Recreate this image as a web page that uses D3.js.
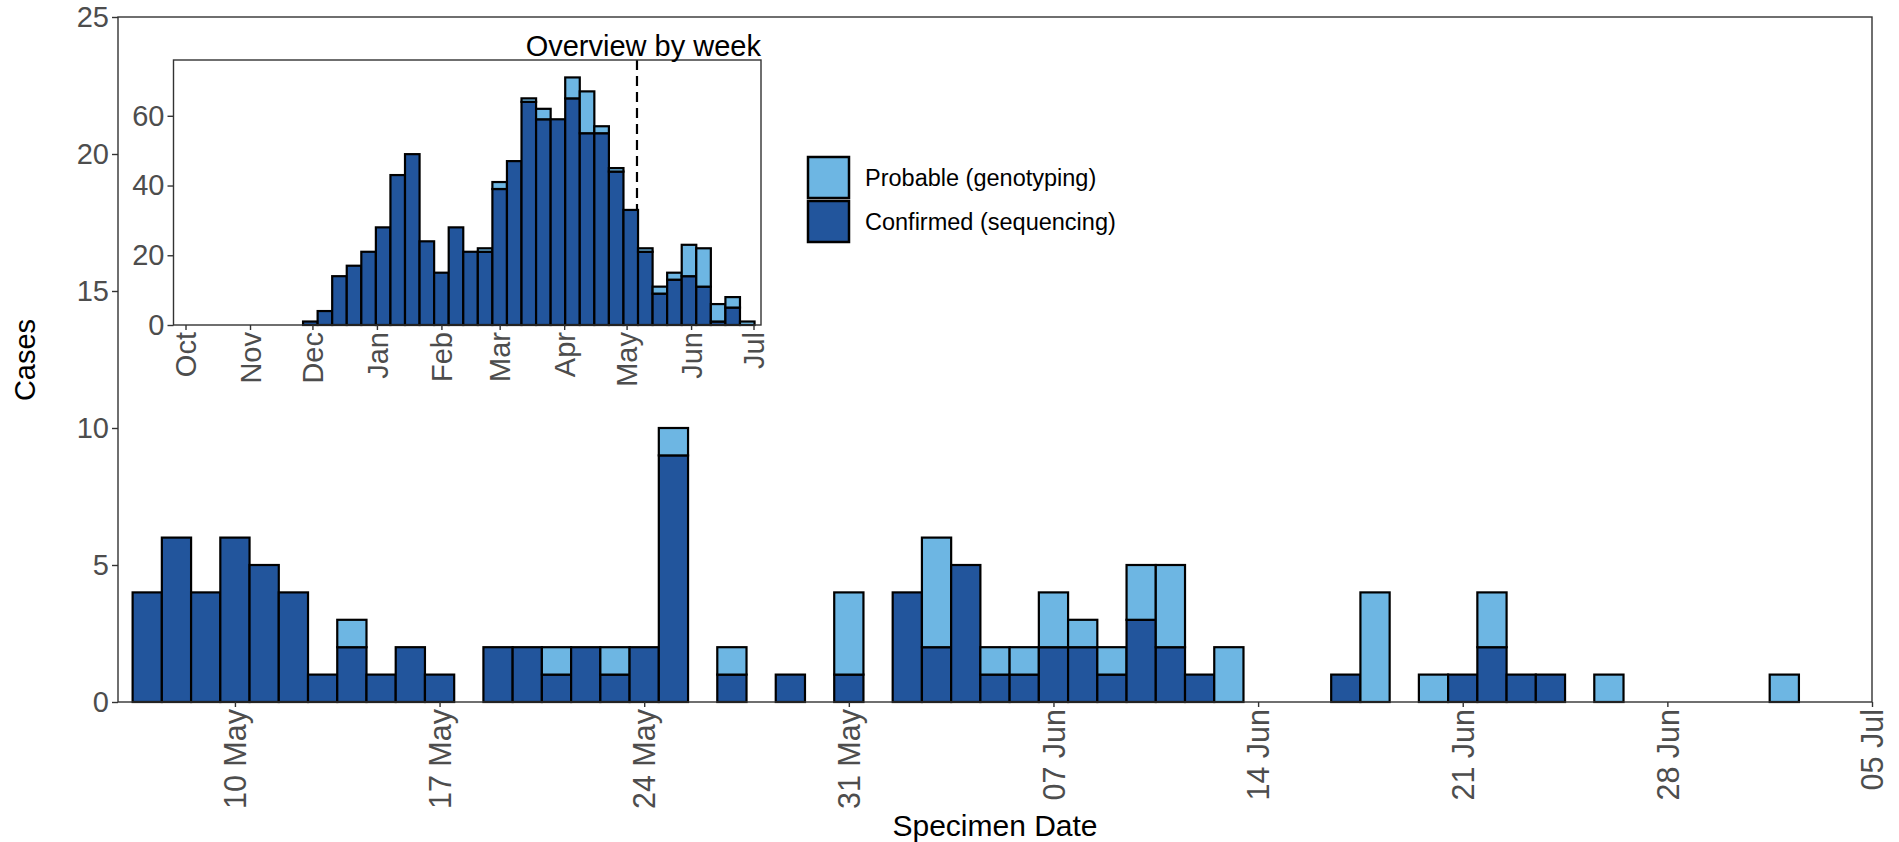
<!DOCTYPE html>
<html><head><meta charset="utf-8">
<script src="https://cdn.jsdelivr.net/npm/d3@7"></script>
<style>
body{margin:0;background:#fff}
svg{display:block}
text{font-family:"Liberation Sans",Arial,sans-serif}
</style>
</head><body>
<svg id="chart" width="1899" height="842"></svg>
<script>
// ---------- DATA ----------
const dailyDates = ["2021-05-07","2021-05-08","2021-05-09","2021-05-10","2021-05-11","2021-05-12","2021-05-13","2021-05-14","2021-05-15","2021-05-16","2021-05-17",
  "2021-05-19","2021-05-20","2021-05-21","2021-05-22","2021-05-23","2021-05-24","2021-05-25","2021-05-27","2021-05-29","2021-05-31",
  "2021-06-02","2021-06-03","2021-06-04","2021-06-05","2021-06-06","2021-06-07","2021-06-08","2021-06-09","2021-06-10","2021-06-11","2021-06-12","2021-06-13",
  "2021-06-17","2021-06-18","2021-06-20","2021-06-21","2021-06-22","2021-06-23","2021-06-24","2021-06-26","2021-07-02"];
const dailyConfirmed = [4,6,4,6,5,4,1,2,1,2,1,
  2,2,1,2,1,2,9,1,1,1,
  4,2,5,1,1,2,2,1,3,2,1,0,
  1,0,0,1,2,1,1,0,0];
const dailyProbable = [0,0,0,0,0,0,0,1,0,0,0,
  0,0,1,0,1,0,1,1,0,3,
  0,4,0,1,1,2,1,1,2,3,0,2,
  0,4,1,0,2,0,0,1,1];

const weekStarts = ["2020-11-30","2020-12-07","2020-12-14","2020-12-21","2020-12-28","2021-01-04","2021-01-11","2021-01-18","2021-01-25",
  "2021-02-01","2021-02-08","2021-02-15","2021-02-22","2021-03-01","2021-03-08","2021-03-15","2021-03-22","2021-03-29",
  "2021-04-05","2021-04-12","2021-04-19","2021-04-26","2021-05-03","2021-05-10","2021-05-17","2021-05-24","2021-05-31",
  "2021-06-07","2021-06-14","2021-06-21","2021-06-28"];
const weeklyConfirmed = [1,4,14,17,21,28,43,49,24,15,28,21,21,39,47,64,59,59,65,55,55,44,33,21,9,13,14,11,1,5,0];
const weeklyProbable  = [0,0,0,0,0,0,0,0,0,0,0,0,1,2,0,1,3,0,6,12,2,1,0,1,2,2,9,11,5,3,1];

const mainTickDates = ["2021-05-10","2021-05-17","2021-05-24","2021-05-31","2021-06-07","2021-06-14","2021-06-21","2021-06-28","2021-07-05"];
const mainTickLabels = ["10 May","17 May","24 May","31 May","07 Jun","14 Jun","21 Jun","28 Jun","05 Jul"];
const mainYTicks = [0,5,10,15,20,25];
const insetTickDates = ["2020-10-01","2020-11-01","2020-12-01","2021-01-01","2021-02-01","2021-03-01","2021-04-01","2021-05-01","2021-06-01","2021-07-01"];
const insetTickLabels = ["Oct","Nov","Dec","Jan","Feb","Mar","Apr","May","Jun","Jul"];
const insetYTicks = [0,20,40,60];
const seriesNames = ["Probable (genotyping)","Confirmed (sequencing)"];
const focusStart = "2021-05-06";
const mainEnd = "2021-07-05";
const insetStart = "2020-09-25T05:30:00Z";
const insetEnd = "2021-07-04T14:30:00Z";

// ---------- STYLE / LAYOUT ----------
const colProb = "#6DB6E3", colConf = "#22559C";
const axisGrey = "#4D4D4D", frameCol = "#333333";
const parse = s => new Date(s.length === 10 ? s + "T00:00:00Z" : s);

const svg = d3.select("#chart");
const M = {left:118, right:1872, top:17, bottom:702};
const I = {left:173.5, right:761, top:60, bottom:325};

// ---------- MAIN ----------
const x = d3.scaleUtc().domain([parse(focusStart), parse(mainEnd)]).range([M.left, M.right]);
const y = d3.scaleLinear().domain([0,25]).range([M.bottom, M.top]);

const daily = dailyDates.map((d,i)=>({date:parse(d), c:dailyConfirmed[i], p:dailyProbable[i]}));
const gMain = svg.append("g");
function addStack(g, data, xs, ys, halfHours){
  data.forEach(d=>{
    const x0 = xs(d3.utcHour.offset(d.date, -halfHours)), x1 = xs(d3.utcHour.offset(d.date, halfHours));
    if (d.c > 0) g.append("rect").attr("x",x0).attr("width",x1-x0)
      .attr("y",ys(d.c)).attr("height",ys(0)-ys(d.c))
      .attr("fill",colConf).attr("stroke","#000").attr("stroke-width",2.2);
    if (d.p > 0) g.append("rect").attr("x",x0).attr("width",x1-x0)
      .attr("y",ys(d.c+d.p)).attr("height",ys(d.c)-ys(d.c+d.p))
      .attr("fill",colProb).attr("stroke","#000").attr("stroke-width",2.2);
  });
}
addStack(gMain, daily, x, y, 12);

// frame
svg.append("rect").attr("x",M.left).attr("y",M.top).attr("width",M.right-M.left).attr("height",M.bottom-M.top)
  .attr("fill","none").attr("stroke",frameCol).attr("stroke-width",1.4);

function styleAxis(g, fs){
  g.select(".domain").remove();
  g.selectAll(".tick line").attr("stroke",frameCol).attr("stroke-width",1.4);
  g.selectAll(".tick text").attr("fill",axisGrey).style("font-size",(fs||29)+"px");
}
const yAx = svg.append("g").attr("transform",`translate(${M.left},0)`)
  .call(d3.axisLeft(y).tickValues(mainYTicks).tickSize(6).tickPadding(3));
styleAxis(yAx);

const xAx = svg.append("g").attr("transform",`translate(0,${M.bottom})`)
  .call(d3.axisBottom(x).tickValues(mainTickDates.map(parse)).tickFormat((d,i)=>mainTickLabels[i]).tickSize(5));
styleAxis(xAx, 30.5);
xAx.selectAll(".tick text").attr("transform","rotate(-90)").attr("text-anchor","end")
  .attr("x",-7).attr("y",0).attr("dy","0.35em");

// axis titles
svg.append("text").attr("transform","translate(35,360) rotate(-90)").attr("text-anchor","middle")
  .style("font-size","29px").attr("fill","#000").text("Cases");
svg.append("text").attr("x",(M.left+M.right)/2).attr("y",836).attr("text-anchor","middle")
  .style("font-size","30px").attr("fill","#000").text("Specimen Date");

// ---------- INSET ----------
const xi = d3.scaleUtc().domain([parse(insetStart), parse(insetEnd)]).range([I.left, I.right]);
const yi = d3.scaleLinear().domain([0,76]).range([I.bottom, I.top]);
const gIn = svg.append("g");
gIn.append("rect").attr("x",I.left).attr("y",I.top).attr("width",I.right-I.left).attr("height",I.bottom-I.top).attr("fill","#fff");
gIn.append("line").attr("x1",xi(parse(focusStart))).attr("x2",xi(parse(focusStart)))
  .attr("y1",yi(76)).attr("y2",yi(0)).attr("stroke","#000").attr("stroke-width",2.2).attr("stroke-dasharray","10,6");
const weekly = weekStarts.map((d,i)=>({date:parse(d), c:weeklyConfirmed[i], p:weeklyProbable[i]}));
addStack(gIn, weekly, xi, yi, 84);
gIn.append("rect").attr("x",I.left).attr("y",I.top).attr("width",I.right-I.left).attr("height",I.bottom-I.top)
  .attr("fill","none").attr("stroke",frameCol).attr("stroke-width",1.4);
const yiAx = gIn.append("g").attr("transform",`translate(${I.left},0)`)
  .call(d3.axisLeft(yi).tickValues(insetYTicks).tickSize(6).tickPadding(3));
styleAxis(yiAx);
const xiAx = gIn.append("g").attr("transform",`translate(0,${I.bottom})`)
  .call(d3.axisBottom(xi).tickValues(insetTickDates.map(parse)).tickFormat((d,i)=>insetTickLabels[i]).tickSize(5));
styleAxis(xiAx);
xiAx.selectAll(".tick text").attr("transform","rotate(-90)").attr("text-anchor","end")
  .attr("x",-7).attr("y",0).attr("dy","0.35em");
gIn.append("text").attr("x",I.right).attr("y",56).attr("text-anchor","end")
  .style("font-size","29px").attr("fill","#000").text("Overview by week");

// ---------- LEGEND ----------
const legCols = [colProb, colConf];
const leg = svg.append("g").attr("transform","translate(808,157)");
seriesNames.forEach((n,i)=>{
  leg.append("rect").attr("x",0).attr("y",i*44).attr("width",41).attr("height",41)
    .attr("fill",legCols[i]).attr("stroke","#000").attr("stroke-width",2.5);
  leg.append("text").attr("x",57).attr("y",i*44+20.5).attr("dy","0.35em")
    .style("font-size","23.5px").attr("fill","#000").text(n);
});
</script>
</body></html>
